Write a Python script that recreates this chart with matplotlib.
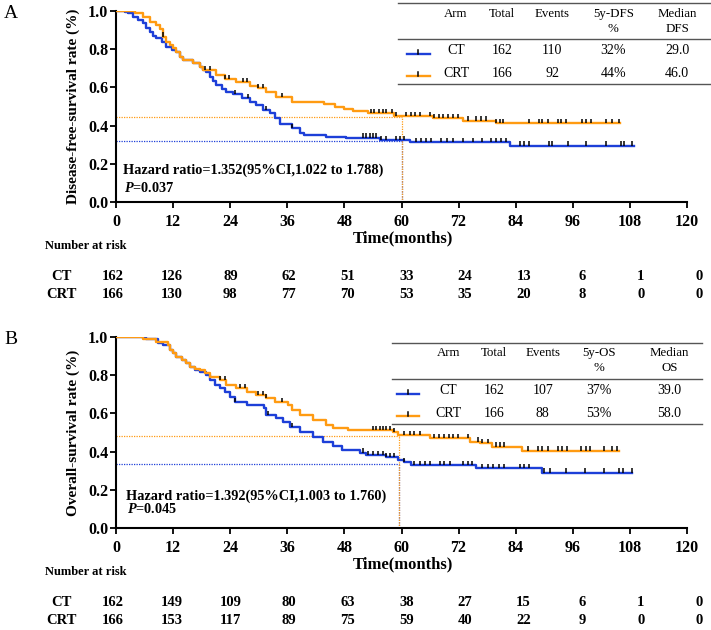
import numpy as np
import matplotlib
matplotlib.use("Agg")
import matplotlib.pyplot as plt
from matplotlib.lines import Line2D

plt.rcParams['font.family'] = ['Liberation Serif', 'DejaVu Serif']
plt.rcParams['mathtext.fontset'] = 'custom'
plt.rcParams['mathtext.it'] = 'Liberation Serif:italic:bold'
plt.rcParams['mathtext.rm'] = 'Liberation Serif:bold'

# ---------------- data ----------------
arms = ["CT", "CRT"]
risk_times = [0, 12, 24, 36, 48, 60, 72, 84, 96, 108, 120]

# Panel A: disease-free survival
dfs_ct_t = [0, 1.9, 2.6, 3.6, 4.7, 5.7, 6.4, 7.1, 7.8, 8.5, 9.6, 10.6, 11.7, 12.7, 13.4, 14.0, 16.2, 17.6,
            18.3, 19.0, 19.7, 20.4, 21.1, 22.2, 23.2, 24.6, 26.4, 28.1, 29.5, 30.9, 32.3, 33.5, 34.4, 36.9,
            38.6, 39.6, 44.2, 48.4, 55.4, 61.7, 82.7, 108.9]
dfs_ct_s = [1.0, 0.996, 0.988, 0.970, 0.953, 0.935, 0.909, 0.892, 0.871, 0.857, 0.836, 0.813, 0.796, 0.787,
            0.760, 0.743, 0.726, 0.708, 0.690, 0.683, 0.656, 0.634, 0.613, 0.592, 0.578, 0.564, 0.543, 0.525,
            0.508, 0.482, 0.464, 0.440, 0.410, 0.386, 0.360, 0.350, 0.342, 0.337, 0.325, 0.313, 0.295, 0.295]
dfs_crt_t = [0, 4.0, 5.7, 7.1, 8.5, 9.2, 9.9, 10.6, 11.3, 12.0, 12.7, 13.4, 14.0, 16.2, 17.6, 18.3, 21.1,
             22.9, 25.3, 28.1, 29.9, 31.6, 33.7, 36.9, 43.8, 46.0, 48.0, 49.8, 52.9, 58.5, 66.6, 72.9, 79.9, 106.0]
dfs_crt_s = [1.0, 0.988, 0.970, 0.944, 0.927, 0.906, 0.866, 0.840, 0.822, 0.805, 0.787, 0.760, 0.743, 0.726,
             0.708, 0.690, 0.665, 0.644, 0.627, 0.609, 0.595, 0.574, 0.551, 0.525, 0.513, 0.499, 0.487, 0.478,
             0.464, 0.450, 0.438, 0.426, 0.412, 0.412]
dfs_ct_cens = [25.0, 27.8, 31.6, 36.9, 51.9, 52.6, 53.3, 54.0, 54.7, 55.7, 56.8, 58.9, 59.7, 60.6, 63.0, 64.1,
               65.1, 66.2, 68.3, 69.5, 70.8, 72.9, 75.0, 77.0, 78.8, 79.9, 81.0, 82.0, 84.8, 85.8, 86.8, 91.0,
               91.7, 94.9, 98.7, 102.9, 106.1, 106.8, 108.5]
dfs_crt_cens = [9.9, 18.8, 19.7, 22.9, 23.8, 26.7, 27.5, 29.9, 30.9, 34.8, 53.6, 54.3, 55.2, 56.1, 56.8, 58.0,
                58.9, 61.0, 62.0, 62.9, 63.8, 65.9, 66.9, 67.8, 68.8, 69.7, 70.8, 71.8, 73.9, 75.7, 76.7, 77.8,
                79.9, 80.6, 81.3, 86.8, 88.9, 89.6, 90.7, 92.8, 93.5, 94.5, 98.0, 98.7, 99.8, 102.9, 104.3, 105.7]
dfs_ref_time = 60.0
dfs_ref_level = [0.318, 0.447]
dfs_risk_ct = [162, 126, 89, 62, 51, 33, 24, 13, 6, 1, 0]
dfs_risk_crt = [166, 130, 98, 77, 70, 53, 35, 20, 8, 0, 0]
dfs_table_header = ["Arm", "Total", "Events", "5y-DFS\n%", "Median\nDFS"]
dfs_table_rows = [["CT", "162", "110", "32%", "29.0"], ["CRT", "166", "92", "44%", "46.0"]]
dfs_hr = "Hazard ratio=1.352(95%CI,1.022 to 1.788)"
dfs_p = "$P$=0.037"

# Panel B: overall survival
os_ct_t = [0, 6.4, 8.9, 9.9, 11.3, 12.0, 12.7, 13.8, 14.8, 15.5, 16.6, 17.6, 19.0, 19.7, 20.8, 21.8, 22.9,
           23.9, 25.0, 27.5, 31.0, 31.6, 33.7, 35.1, 36.5, 38.6, 41.4, 43.4, 45.5, 47.5, 51.2, 52.6, 56.8,
           59.2, 60.6, 62.0, 75.7, 89.6, 108.5]
os_ct_s = [1.0, 0.990, 0.967, 0.958, 0.932, 0.915, 0.897, 0.880, 0.862, 0.845, 0.827, 0.818, 0.800, 0.775,
           0.749, 0.731, 0.714, 0.687, 0.661, 0.644, 0.627, 0.592, 0.574, 0.553, 0.530, 0.504, 0.478, 0.452,
           0.430, 0.410, 0.395, 0.382, 0.373, 0.356, 0.347, 0.330, 0.3125, 0.290, 0.290]
os_crt_t = [0, 5.7, 8.5, 11.0, 11.3, 12.0, 12.7, 13.8, 14.8, 15.5, 16.6, 17.6, 18.6, 19.7, 21.8, 23.2, 25.3,
            27.5, 29.5, 31.6, 33.4, 36.2, 36.9, 38.6, 41.4, 44.2, 45.5, 48.7, 58.2, 59.2, 65.9, 74.3, 76.4,
            79.1, 85.4, 105.7]
os_crt_s = [1.0, 0.990, 0.975, 0.958, 0.932, 0.915, 0.897, 0.880, 0.862, 0.845, 0.835, 0.827, 0.810, 0.792,
            0.775, 0.749, 0.731, 0.714, 0.696, 0.679, 0.661, 0.644, 0.618, 0.590, 0.565, 0.539, 0.522, 0.513,
            0.504, 0.487, 0.470, 0.452, 0.443, 0.426, 0.405, 0.405]
os_ct_cens = [4.0, 25.0, 32.0, 36.9, 51.9, 53.0, 54.0, 55.0, 56.1, 56.8, 57.5, 58.5, 60.6, 62.7, 63.8, 64.9,
              65.9, 68.0, 69.0, 70.1, 72.9, 73.9, 74.8, 77.0, 78.1, 79.3, 80.4, 81.6, 84.8, 85.8, 86.7, 90.0,
              91.2, 94.5, 98.6, 102.6, 105.7, 106.6, 108.5]
os_crt_cens = [21.8, 22.9, 26.0, 27.1, 29.9, 30.8, 31.6, 34.8, 54.0, 54.7, 55.4, 56.1, 56.8, 57.6, 58.5, 60.6,
               61.7, 62.7, 63.8, 66.9, 67.9, 68.9, 69.9, 70.9, 71.8, 73.9, 76.0, 77.0, 78.1, 79.9, 80.6, 81.6,
               86.5, 88.6, 89.6, 90.7, 92.8, 93.8, 94.7, 97.7, 98.7, 99.6, 102.6, 104.3, 105.2]
os_ref_time = 59.4
os_ref_level = [0.336, 0.484]
os_risk_ct = [162, 149, 109, 80, 63, 38, 27, 15, 6, 1, 0]
os_risk_crt = [166, 153, 117, 89, 75, 59, 40, 22, 9, 0, 0]
os_table_header = ["Arm", "Total", "Events", "5y-OS\n%", "Median\nOS"]
os_table_rows = [["CT", "162", "107", "37%", "39.0"], ["CRT", "166", "88", "53%", "58.0"]]
os_hr = "Hazard ratio=1.392(95%CI,1.003 to 1.760)"
os_p = "$P$=0.045"

# ---------------- style ----------------
BLUE = "#1d3fd8"
ORANGE = "#ff9b12"
COLORS = [BLUE, ORANGE]
W, H = 711, 630


def fx(px):
    return px / W


def fy(py):
    return 1 - py / H


fig = plt.figure(figsize=(W / 100, H / 100), dpi=100)


def panel(top_px, letter, ylabel, curves, cens, ref_time, ref_level, hr, p, hr_x, hr_y, p_y):
    ax = fig.add_axes([fx(116), fy(top_px + 191), (687 - 116) / W, 191 / H])
    ax.set_xlim(0, 120)
    ax.set_ylim(0, 1.0)
    # reference dotted lines (5-year survival)
    for lvl, c in zip(ref_level, COLORS):
        ax.plot([0, ref_time], [lvl, lvl], ls=(0, (1, 1)), color=c, lw=0.9, zorder=1)
        ax.plot([ref_time, ref_time], [0, lvl], ls=(0, (1, 1)), color=c, lw=0.9, zorder=1)
    for (t, s), cs, c in zip(curves, cens, COLORS):
        ax.step(t, s, where='post', color=c, lw=1.7, zorder=3)
        t = np.asarray(t)
        s = np.asarray(s)
        idx = np.searchsorted(t, cs, side='right') - 1
        yv = s[idx]
        ax.vlines(cs, yv, yv + 0.022, color='black', lw=1.1, zorder=4)
    ax.spines['top'].set_visible(False)
    ax.spines['right'].set_visible(False)
    for sp in ('left', 'bottom'):
        ax.spines[sp].set_linewidth(1.5)
    ax.set_xticks(risk_times)
    ax.set_yticks([0, 0.2, 0.4, 0.6, 0.8, 1.0])
    ax.set_yticklabels([f"{v:.1f}" for v in [0, 0.2, 0.4, 0.6, 0.8, 1.0]])
    ax.tick_params(axis='both', direction='out', length=4, width=1.3)
    ax.tick_params(axis='x', pad=5, labelsize=11.5)
    ax.tick_params(axis='y', pad=1.5, labelsize=11.5)
    for lab in ax.get_xticklabels() + ax.get_yticklabels():
        lab.set_fontweight('bold')
    ax.set_ylabel(ylabel, fontsize=11, fontweight='bold', labelpad=6)
    fig.text(fx(hr_x), fy(hr_y), hr, fontsize=10.3, fontweight='bold', ha='left', va='center')
    fig.text(fx(hr_x + 1), fy(p_y), p, fontsize=10.3, fontweight='bold', ha='left', va='center')
    fig.text(fx(11), fy(top_px + 2), letter, fontsize=14, ha='center', va='center')
    return ax


def table(x0, x1, y_top, y_mid, y_bot, cols, header, rows, y_h1, y_h2, y_rows, leg_x0, leg_x1):
    for yy in (y_top, y_mid, y_bot):
        fig.add_artist(Line2D([fx(x0), fx(x1)], [fy(yy), fy(yy)], color='#555555', lw=1.0,
                              transform=fig.transFigure))
    for cx, h in zip(cols, header):
        parts = h.split("\n")
        fig.text(fx(cx), fy(y_h1), parts[0], fontsize=9.3, ha='center', va='center')
        if len(parts) > 1:
            fig.text(fx(cx), fy(y_h2), parts[1], fontsize=9.3, ha='center', va='center')
    for row, yy, c in zip(rows, y_rows, COLORS):
        for cx, val in zip(cols, row):
            fig.text(fx(cx), fy(yy), val, fontsize=10, ha='center', va='center')
        fig.add_artist(Line2D([fx(leg_x0), fx(leg_x1)], [fy(yy + 3), fy(yy + 3)], color=c, lw=1.7,
                              transform=fig.transFigure))
        xm = (leg_x0 + leg_x1) / 2
        fig.add_artist(Line2D([fx(xm), fx(xm)], [fy(yy + 3), fy(yy - 1)], color='black', lw=1.1,
                              transform=fig.transFigure))


def risk(y_time, y_nar, y_rows, risk_ct, risk_crt):
    fig.text(fx(403), fy(y_time), "Time(months)", fontsize=12, fontweight='bold', ha='center', va='center')
    fig.text(fx(86), fy(y_nar), "Number at risk", fontsize=9, fontweight='bold', ha='center', va='center')
    for arm, vals, yy in zip(arms, [risk_ct, risk_crt], y_rows):
        fig.text(fx(61.5), fy(yy), arm, fontsize=10.5, fontweight='bold', ha='center', va='center')
        for i, v in enumerate(vals):
            fig.text(fx(113 + i * 58.66), fy(yy), str(v), fontsize=10.5, fontweight='bold',
                     ha='center', va='center')


# Panel A
panel(11, "A", "Disease-free-survival rate (%)",
      [(dfs_ct_t, dfs_ct_s), (dfs_crt_t, dfs_crt_s)], [dfs_ct_cens, dfs_crt_cens],
      dfs_ref_time, dfs_ref_level, dfs_hr, dfs_p, 123, 170, 188)
table(398, 710, 2.7, 39.3, 84, [456, 501.7, 552.3, 613.3, 677.3], dfs_table_header, dfs_table_rows,
      14, 29, [50.7, 73.3], 406.7, 430)
risk(238, 246, [276, 295], dfs_risk_ct, dfs_risk_crt)

# Panel B
panel(337, "B", "Overall-survival rate (%)",
      [(os_ct_t, os_ct_s), (os_crt_t, os_crt_s)], [os_ct_cens, os_crt_cens],
      os_ref_time, os_ref_level, os_hr, os_p, 126, 496, 509)
table(391.7, 701.7, 342.7, 379, 424, [448.3, 494, 542.7, 599.3, 669.3], os_table_header, os_table_rows,
      353.3, 368.3, [390.7, 413.3], 397.3, 419.3)
risk(564, 572, [603, 620], os_risk_ct, os_risk_crt)

fig.savefig("out.png", dpi=100)
